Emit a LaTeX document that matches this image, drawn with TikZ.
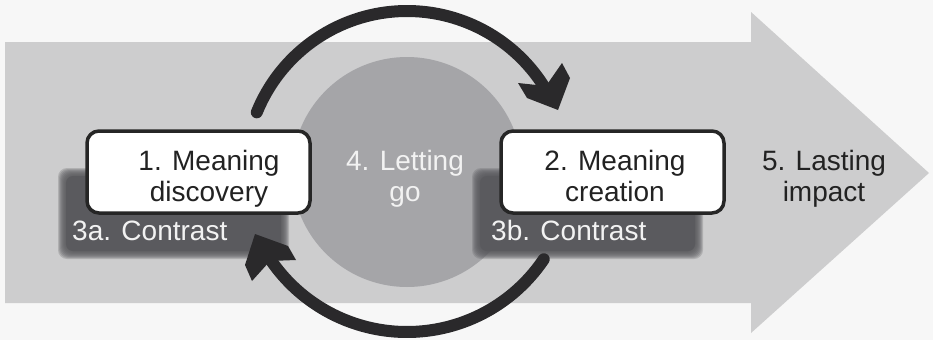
\documentclass[tikz,border=0pt]{standalone}
\usepackage{fontspec}
\setmainfont{Liberation Sans}
\definecolor{bgc}{HTML}{F7F7F7}
\definecolor{bandc}{HTML}{CDCDCE}
\definecolor{circc}{HTML}{A5A5A8}
\definecolor{shadc}{HTML}{5A5A5E}
\definecolor{arrc}{HTML}{2A292B}
\definecolor{boxline}{HTML}{262626}
\definecolor{txtdark}{HTML}{222222}
\definecolor{txtlight}{HTML}{F2F2F2}
\newcommand{\mysoftbox}[4]{%
  \foreach \e in {4,3,2,1,0,-1,-2,-3}{%
    \fill[shadc, fill opacity=0.25, rounded corners=9pt]
      ({#1-(\e)},{#2-(\e)}) rectangle ({#3+(\e)},{#4+(\e)});}%
  \fill[shadc, rounded corners=7pt] ({#1+4},{#2+4}) rectangle ({#3-4},{#4-4});}
\begin{document}
\begin{tikzpicture}[x=1pt,y=-1pt,
  wbox/.style={draw=boxline, line width=3.5pt, fill=white, rounded corners=12pt,
    minimum width=223pt, minimum height=82pt, inner sep=0pt},
  lbl/.style={font=\fontsize{28}{31}\selectfont, align=center, inner sep=0pt, anchor=north},
  darklbl/.style={lbl, text=txtdark},
  lightlbl/.style={lbl, text=txtlight},
  contrastlbl/.style={font=\fontsize{28}{31}\selectfont, text=txtlight, inner sep=0pt, anchor=base west},
  cyc/.style={draw=arrc, line width=12pt, line cap=round},
  cychead/.style={fill=arrc}]
\useasboundingbox (0,0) rectangle (933,340);
\fill[bgc] (0,0) rectangle (933,340);
% big arrow
\fill[bandc] (5,42) -- (751,42) -- (751,12) -- (929,173) -- (751,333) -- (751,303) -- (5,303) -- cycle;
% letting go circle
\fill[circc] (407,172) circle[radius=115];
% contrast shadows
\mysoftbox{62}{172}{285}{255}
\mysoftbox{476}{172}{699}{255}
\node[contrastlbl] (t3a) at (72,240) {3a. Contrast};
\node[contrastlbl] (t3b) at (491,240) {3b. Contrast};
% boxes
\node[wbox] (b1) at (198.5,172) {};
\node[wbox] (b2) at (612.5,172) {};
\node[darklbl] (t1) at (209,150) {1. Meaning\\discovery};
\node[darklbl] (t2) at (615,150) {2. Meaning\\creation};
\node[lightlbl] (t4) at (405,150) {4. Letting\\go};
\node[darklbl] (t5) at (824,150) {5. Lasting\\impact};
% cycle arrows
\draw[cyc] plot[domain=202:328, samples=60, smooth] ({407+162*cos(\x)},{173+162*sin(\x)});
\fill[cychead] (518,83) -- (527,98) -- (558,110) -- (570,78) -- (562,63) -- (546,86) -- cycle;
\draw[cyc] plot[domain=34:145, samples=60, smooth] ({407+165*cos(\x)},{167+165*sin(\x)});
\fill[cychead] (255,234) -- (288,246) -- (296,260) -- (270,261) -- (252,281) -- (245,265) -- cycle;
\end{tikzpicture}
\end{document}
